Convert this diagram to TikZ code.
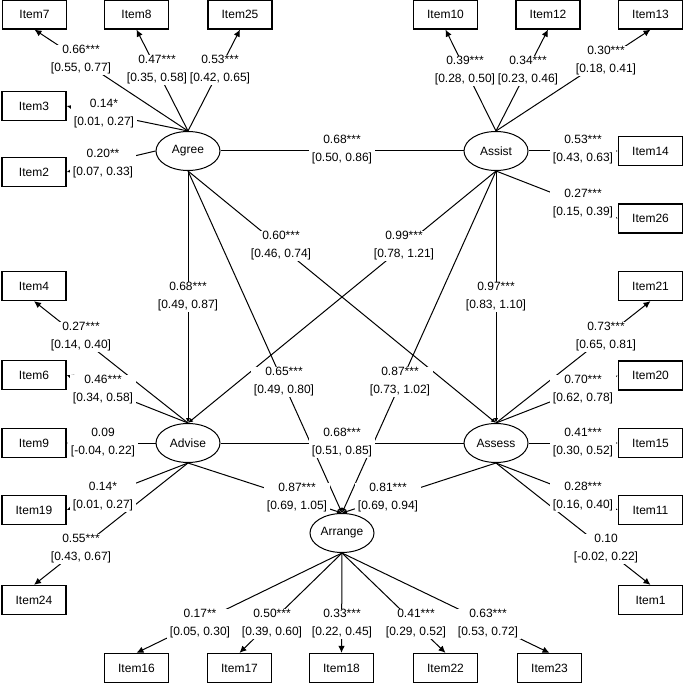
\documentclass[tikz,border=0pt]{standalone}
\usepackage{fontspec}
\setmainfont{Liberation Sans}
\usetikzlibrary{shapes.geometric,arrows.meta}
\newcommand{\lb}[2]{#1\\{[#2]}}
\begin{document}
\begin{tikzpicture}[x=1pt,y=-1pt,
  item/.style={draw,line width=1.2pt,minimum width=64pt,minimum height=29pt,inner sep=0pt,fill=white,font=\fontsize{12}{14}\selectfont},
  lat/.style={ellipse,draw,line width=1pt,minimum width=64pt,minimum height=39pt,inner sep=0pt,fill=white,font=\fontsize{12}{14}\selectfont},
  lbl/.style={fill=white,align=center,inner xsep=3pt,inner ysep=1pt,font=\fontsize{12}{18}\selectfont},
  ind/.style={line width=1pt,-{Latex[length=7pt,width=6.5pt]}},
  strp/.style={line width=1pt,-{Latex[length=5pt,width=4.5pt]}},
  covp/.style={line width=1pt}]
\useasboundingbox (0,0) rectangle (685,684);
% latent variables
\node[lat] (agree) at (188,151) {Agree};
\node[lat] (assist) at (496,151) {Assist};
\node[lat] (advise) at (188,443) {Advise};
\node[lat] (assess) at (496,443) {Assess};
\node[lat] (arrange) at (342,533) {Arrange};
% boxes
\node[item] (i7) at (34.5,14.5) {Item7};
\node[item] (i8) at (136.5,14.5) {Item8};
\node[item] (i25) at (240,14.5) {Item25};
\node[item] (i3) at (34,106) {Item3};
\node[item] (i2) at (34,172) {Item2};
\node[item] (i10) at (445.5,14.5) {Item10};
\node[item] (i12) at (548,14.5) {Item12};
\node[item] (i13) at (650.5,14.5) {Item13};
\node[item] (i14) at (650.5,151) {Item14};
\node[item] (i26) at (650.5,218.5) {Item26};
\node[item] (i4) at (34,286) {Item4};
\node[item] (i6) at (34,375) {Item6};
\node[item] (i9) at (34,443) {Item9};
\node[item] (i19) at (34,510) {Item19};
\node[item] (i24) at (34,600) {Item24};
\node[item] (i21) at (650.5,286) {Item21};
\node[item] (i20) at (650.5,375.5) {Item20};
\node[item] (i15) at (650.5,443) {Item15};
\node[item] (i11) at (650.5,510) {Item11};
\node[item] (i1) at (650.5,600) {Item1};
\node[item] (i16) at (136.5,668) {Item16};
\node[item] (i17) at (239.5,668) {Item17};
\node[item] (i18) at (341.5,668) {Item18};
\node[item] (i22) at (445.5,668) {Item22};
\node[item] (i23) at (549.5,668) {Item23};
% structural paths
\draw[covp] (agree.east) -- (assist.west);
\draw[covp] (advise.east) -- (assess.west);
\draw[strp] (agree.south) -- (advise.north);
\draw[strp] (agree.south) -- (assess.north);
\draw[strp] (agree.south) -- (arrange.north);
\draw[strp] (assist.south) -- (advise.north);
\draw[strp] (assist.south) -- (assess.north);
\draw[strp] (assist.south) -- (arrange.north);
\draw[strp] (advise.south) -- (arrange.north);
\draw[strp] (assess.south) -- (arrange.north);
% indicator paths
\draw[ind] (agree.north) -- (i7.south);
\draw[ind] (agree.north) -- (i8.south);
\draw[ind] (agree.north) -- (i25.south);
\draw[ind] (agree.north) -- (i3.east);
\draw[ind] (agree.west) -- (i2.east);
\draw[ind] (assist.north) -- (i10.south);
\draw[ind] (assist.north) -- (i12.south);
\draw[ind] (assist.north) -- (i13.south);
\draw[ind] (assist.east) -- (i14.west);
\draw[ind] (assist.south) -- (i26.west);
\draw[ind] (advise.north) -- (i4.south);
\draw[ind] (advise.north) -- (i6.east);
\draw[ind] (advise.west) -- (i9.east);
\draw[ind] (advise.south) -- (i19.east);
\draw[ind] (advise.south) -- (i24.north);
\draw[ind] (assess.north) -- (i21.south);
\draw[ind] (assess.north) -- (i20.west);
\draw[ind] (assess.east) -- (i15.west);
\draw[ind] (assess.south) -- (i11.west);
\draw[ind] (assess.south) -- (i1.north);
\draw[ind] (arrange.south) -- (i16.north);
\draw[ind] (arrange.south) -- (i17.north);
\draw[ind] (arrange.south) -- (i18.north);
\draw[ind] (arrange.south) -- (i22.north);
\draw[ind] (arrange.south) -- (i23.north);
% structural labels
\node[lbl] (l1) at (342,150) {\lb{0.68***}{0.50, 0.86}};
\node[lbl] (l2) at (188,297) {\lb{0.68***}{0.49, 0.87}};
\node[lbl] (l3) at (496,297) {\lb{0.97***}{0.83, 1.10}};
\node[lbl] (l4) at (281,246) {\lb{0.60***}{0.46, 0.74}};
\node[lbl] (l5) at (404,246) {\lb{0.99***}{0.78, 1.21}};
\node[lbl] (l6) at (284,382) {\lb{0.65***}{0.49, 0.80}};
\node[lbl] (l7) at (400,382) {\lb{0.87***}{0.73, 1.02}};
\node[lbl] (l8) at (342,443) {\lb{0.68***}{0.51, 0.85}};
\node[lbl] (l9) at (297,498) {\lb{0.87***}{0.69, 1.05}};
\node[lbl] (l10) at (388,498) {\lb{0.81***}{0.69, 0.94}};
% indicator labels
\node[lbl] (m7) at (81,60) {\lb{0.66***}{0.55, 0.77}};
\node[lbl] (m8) at (157,70) {\lb{0.47***}{0.35, 0.58}};
\node[lbl] (m25) at (220,70) {\lb{0.53***}{0.42, 0.65}};
\node[lbl] (m3) at (104,114) {\lb{0.14*}{0.01, 0.27}};
\node[lbl] (m2) at (103,164) {\lb{0.20**}{0.07, 0.33}};
\node[lbl] (m10) at (465,71) {\lb{0.39***}{0.28, 0.50}};
\node[lbl] (m12) at (528,71) {\lb{0.34***}{0.23, 0.46}};
\node[lbl] (m13) at (606,61) {\lb{0.30***}{0.18, 0.41}};
\node[lbl] (m14) at (583,150) {\lb{0.53***}{0.43, 0.63}};
\node[lbl] (m26) at (583,204) {\lb{0.27***}{0.15, 0.39}};
\node[lbl] (m4) at (81,337) {\lb{0.27***}{0.14, 0.40}};
\node[lbl] (m6) at (103,390) {\lb{0.46***}{0.34, 0.58}};
\node[lbl] (m9) at (103,443) {\lb{0.09}{-0.04, 0.22}};
\node[lbl] (m19) at (103,497) {\lb{0.14*}{0.01, 0.27}};
\node[lbl] (m24) at (81,549) {\lb{0.55***}{0.43, 0.67}};
\node[lbl] (m21) at (606,337) {\lb{0.73***}{0.65, 0.81}};
\node[lbl] (m20) at (583,390) {\lb{0.70***}{0.62, 0.78}};
\node[lbl] (m15) at (583,443) {\lb{0.41***}{0.30, 0.52}};
\node[lbl] (m11) at (583,497) {\lb{0.28***}{0.16, 0.40}};
\node[lbl] (m1) at (606,549) {\lb{0.10}{-0.02, 0.22}};
\node[lbl] (m16) at (200,624) {\lb{0.17**}{0.05, 0.30}};
\node[lbl] (m17) at (272,624) {\lb{0.50***}{0.39, 0.60}};
\node[lbl] (m18) at (342,624) {\lb{0.33***}{0.22, 0.45}};
\node[lbl] (m22) at (416,624) {\lb{0.41***}{0.29, 0.52}};
\node[lbl] (m23) at (488,624) {\lb{0.63***}{0.53, 0.72}};
\end{tikzpicture}
\end{document}
